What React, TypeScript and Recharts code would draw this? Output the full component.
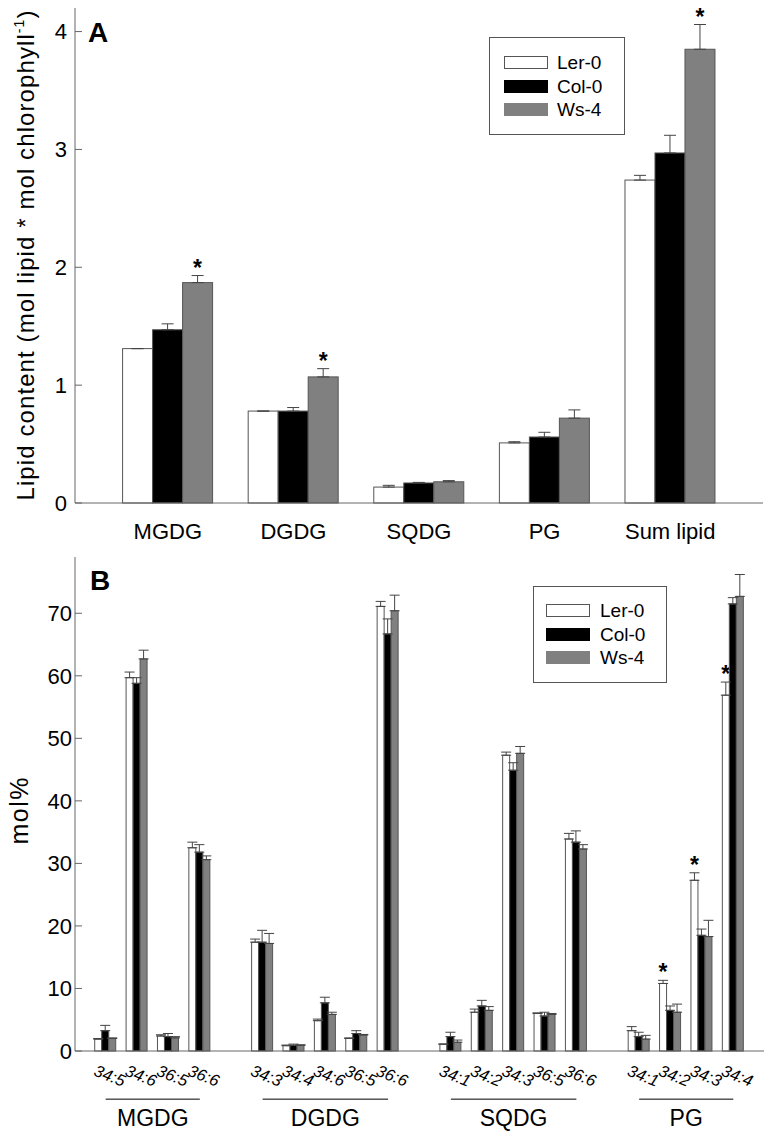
import React from "react";
import { BarChart, Bar, XAxis, YAxis, Legend, ErrorBar, ReferenceLine } from "recharts";

const FONT = '"Liberation Sans", Arial, Helvetica, sans-serif';

// accessions (series)
const accessions = ["Ler-0", "Col-0", "Ws-4"];
const seriesKeys = ["ler", "col", "ws"];
const seriesFills = ["#ffffff", "#000000", "#808080"];

// panel A: lipid content per mol chlorophyll
const lipidClassesA = ["MGDG", "DGDG", "SQDG", "PG", "Sum lipid"];
const lerA = [1.31, 0.78, 0.135, 0.51, 2.74];
const lerErrA = [0, 0, 0.015, 0.01, 0.04];
const colA = [1.47, 0.78, 0.17, 0.56, 2.97];
const colErrA = [0.05, 0.03, 0.005, 0.04, 0.15];
const wsA = [1.87, 1.07, 0.18, 0.72, 3.85];
const wsErrA = [0.06, 0.07, 0.01, 0.07, 0.21];
const wsSigA = [true, true, false, false, true];
const ticksA = [0, 1, 2, 3, 4];

// panel B: molecular species, mol%
const classesB = ["MGDG", "DGDG", "SQDG", "PG"];
const speciesB = [
  ["34:5", "34:6", "36:5", "36:6"],
  ["34:3", "34:4", "34:6", "36:5", "36:6"],
  ["34:1", "34:2", "34:3", "36:5", "36:6"],
  ["34:1", "34:2", "34:3", "34:4"],
];
const lerB = [1.9, 59.7, 2.4, 32.5, 17.4, 0.85, 4.85, 2.0, 71.1, 1.1, 6.2, 47.3, 6.0, 33.9, 3.25, 10.8, 27.3, 56.9];
const lerErrB = [0.1, 0.9, 0.2, 0.9, 0.5, 0.1, 0.25, 0.1, 0.8, 0, 0.5, 0.5, 0.1, 0.9, 0.65, 0.5, 1.2, 2.1];
const colB = [3.25, 58.8, 2.3, 31.8, 17.4, 0.9, 7.7, 2.8, 66.7, 2.3, 7.2, 44.9, 5.6, 33.4, 2.3, 6.5, 18.5, 71.5];
const colErrB = [0.85, 0.9, 0.5, 1.2, 1.9, 0.2, 0.9, 0.45, 2.4, 0.7, 0.9, 1.2, 0.6, 1.8, 0.7, 0.7, 1.0, 1.0];
const wsB = [2.0, 62.7, 2.1, 30.6, 17.2, 0.9, 5.85, 2.55, 70.4, 1.4, 6.5, 47.6, 5.85, 32.3, 1.9, 6.2, 18.3, 72.7];
const wsErrB = [0.1, 1.4, 0.2, 0.6, 1.6, 0.1, 0.35, 0.1, 2.5, 0.35, 0.6, 1.1, 0.15, 0.7, 0.6, 1.3, 2.6, 3.5];
const lerSigB = ["PG 34:2", "PG 34:3", "PG 34:4"];
const ticksB = [0, 10, 20, 30, 40, 50, 60, 70];

const rowsA = lipidClassesA.map((name, i) => ({
  id: name,
  ler: lerA[i],
  lerErr: lerErrA[i],
  col: colA[i],
  colErr: colErrA[i],
  ws: wsA[i],
  wsErr: wsErrA[i],
  wsSig: wsSigA[i],
}));

const rowsB: any[] = [];
let k = 0;
classesB.forEach((cls, ci) => {
  speciesB[ci].forEach((sp) => {
    const id = `${cls} ${sp}`;
    rowsB.push({
      id,
      label: sp,
      cls,
      ler: lerB[k],
      lerErr: lerErrB[k],
      col: colB[k],
      colErr: colErrB[k],
      ws: wsB[k],
      wsErr: wsErrB[k],
      lerSig: lerSigB.includes(id),
    });
    k++;
  });
  if (ci < classesB.length - 1) rowsB.push({ id: `gap${ci}`, label: "", cls: null });
});

const barShape = (key: string, fill: string) => (props: any) => {
  const { x, y, width, height, payload } = props;
  const v = payload?.[key];
  if (v == null || !height) return <g />;
  const perUnit = height / v;
  const errTop = y - (payload[key + "Err"] || 0) * perUnit;
  return (
    <g>
      <rect x={x} y={y} width={width} height={height} fill={fill} stroke="#555" strokeWidth={1} />
      {payload[key + "Sig"] ? (
        <text x={x + width / 2} y={errTop} textAnchor="middle" fontSize={23} fontWeight="bold" fontFamily={FONT} fill="#000">
          *
        </text>
      ) : null}
    </g>
  );
};

const makeYTick = (gap: number, fontSize: number) => (props: any) => {
  const { x, y, payload } = props;
  const axisX = x + gap;
  return (
    <g>
      <line x1={axisX} x2={axisX + 7} y1={y} y2={y} stroke="#666" />
      <text x={x} y={y} dy="0.36em" textAnchor="end" fontSize={fontSize} fontFamily={FONT} fill="#000">
        {payload.value}
      </text>
    </g>
  );
};

const RightTick = (props: any) => {
  const { x, y } = props;
  return <line x1={x - 7} x2={x} y1={y} y2={y} stroke="#666" />;
};

const SpeciesTick = (props: any) => {
  const { x, y, payload } = props;
  const row = rowsB.find((r) => r.id === payload.value);
  if (!row || !row.label) return <g />;
  const ax = x - 13;
  const ay = y + 24;
  return (
    <text x={ax} y={ay} transform={`rotate(22, ${ax}, ${ay})`} fontSize={16.5} fontStyle="italic" fontFamily={FONT} fill="#000">
      {row.label}
    </text>
  );
};

const makeLegend = (padTop: number, padLeft: number, gap: number) => (props: any) => {
  const payload = props.payload || [];
  const items = accessions.map((a, i) => payload.find((p: any) => p.value === a) || { value: a, color: seriesFills[i] });
  return (
    <div
      style={{
        border: "1px solid #555",
        background: "#fff",
        boxSizing: "border-box",
        width: "100%",
        height: "100%",
        padding: `${padTop}px 0 0 ${padLeft}px`,
      }}
    >
      {items.map((p: any) => (
        <div key={p.value} style={{ display: "flex", alignItems: "center", height: 23.5 }}>
          <div
            style={{
              width: 44,
              height: 13,
              background: p.color,
              border: `1px solid ${p.color === "#ffffff" ? "#555" : p.color}`,
              boxSizing: "border-box",
            }}
          />
          <span style={{ marginLeft: gap, fontSize: 19, fontFamily: FONT, lineHeight: 1, color: "#000" }}>{p.value}</span>
        </div>
      ))}
    </div>
  );
};

const yLabelA = (props: any) => {
  const vb = props.viewBox || { x: 0, y: 8, width: 75, height: 495 };
  const cx = vb.x + 34;
  const cy = vb.y + vb.height / 2;
  return (
    <text
      x={cx}
      y={cy}
      transform={`rotate(-90, ${cx}, ${cy})`}
      textAnchor="middle"
      fontSize={24}
      fontFamily={FONT}
      fill="#000"
      textLength={490}
      lengthAdjust="spacing"
    >
      Lipid content (mol lipid * mol chlorophyll
      <tspan fontSize={14} dy={-10}>
        -1
      </tspan>
      <tspan dy={10}>)</tspan>
    </text>
  );
};

const yLabelB = (props: any) => {
  const vb = props.viewBox || { x: 0, y: 12, width: 75, height: 494 };
  const cx = vb.x + 28;
  const cy = vb.y + vb.height / 2 + 7;
  return (
    <text
      x={cx}
      y={cy}
      transform={`rotate(-90, ${cx}, ${cy})`}
      textAnchor="middle"
      fontSize={25}
      fontFamily={FONT}
      fill="#000"
      textLength={67}
      lengthAdjust="spacing"
    >
      mol%
    </text>
  );
};

const panelLetter = (letter: string, left: number, top: number) => (
  <div
    style={{
      position: "absolute",
      left,
      top,
      fontFamily: FONT,
      fontWeight: "bold",
      fontSize: 28,
      lineHeight: 1,
      color: "#000",
    }}
  >
    {letter}
  </div>
);

export default function App() {
  return (
    <div style={{ position: "absolute", left: 0, top: 0, width: 772, height: 1135, background: "#fff", fontFamily: FONT }}>
      <div style={{ position: "absolute", left: 0, top: 0 }}>
        <BarChart width={772} height={545} data={rowsA} margin={{ top: 8, right: 9, bottom: 0, left: 0 }} barCategoryGap="14%" barGap={0}>
          <XAxis
            dataKey="id"
            padding={{ left: 30, right: 30 }}
            tickLine={false}
            tickSize={0}
            tickMargin={20}
            height={42}
            interval={0}
            axisLine={{ stroke: "#666" }}
            tick={{ fontSize: 22, fill: "#000", fontFamily: FONT }}
          />
          <XAxis xAxisId="top" dataKey="id" orientation="top" height={0} tick={false} tickLine={false} axisLine={{ stroke: "#666" }} />
          <YAxis
            domain={[0, 4.2]}
            ticks={ticksA}
            width={75}
            tickLine={false}
            tickSize={0}
            tickMargin={8}
            axisLine={{ stroke: "#666" }}
            tick={makeYTick(8, 22)}
            label={yLabelA}
          />
          <YAxis
            yAxisId="right"
            orientation="right"
            domain={[0, 4.2]}
            ticks={ticksA}
            width={0}
            tickLine={false}
            tickSize={0}
            tickMargin={0}
            axisLine={{ stroke: "#666" }}
            tick={RightTick}
          />
          <Legend
            layout="vertical"
            align="center"
            verticalAlign="middle"
            content={makeLegend(13, 14, 9)}
            wrapperStyle={{ left: 489, top: 37, width: 136, height: 98 }}
          />
          {seriesKeys.map((key, i) => (
            <Bar key={key} dataKey={key} name={accessions[i]} fill={seriesFills[i]} shape={barShape(key, seriesFills[i])} isAnimationActive={false}>
              <ErrorBar dataKey={(d: any) => (d[key + "Err"] == null ? undefined : [0, d[key + "Err"]])} width={6} stroke="#444" strokeWidth={1} direction="y" />
            </Bar>
          ))}
        </BarChart>
        {panelLetter("A", 88, 19)}
      </div>

      <div style={{ position: "absolute", left: 0, top: 545 }}>
        <BarChart width={772} height={590} data={rowsB} margin={{ top: 12, right: 8, bottom: 0, left: 0 }} barCategoryGap="15%" barGap={0}>
          <XAxis
            dataKey="id"
            padding={{ left: 15, right: 15 }}
            tickLine={false}
            tickSize={0}
            tickMargin={0}
            height={84}
            interval={0}
            axisLine={{ stroke: "#666" }}
            tick={SpeciesTick}
          />
          <XAxis xAxisId="top" dataKey="id" orientation="top" height={0} tick={false} tickLine={false} axisLine={{ stroke: "#666" }} />
          <YAxis
            domain={[0, 79]}
            ticks={ticksB}
            width={75}
            tickLine={false}
            tickSize={0}
            tickMargin={3}
            axisLine={{ stroke: "#666" }}
            tick={makeYTick(3, 22)}
            label={yLabelB}
          />
          <YAxis
            yAxisId="right"
            orientation="right"
            domain={[0, 79]}
            ticks={ticksB}
            width={0}
            tickLine={false}
            tickSize={0}
            tickMargin={0}
            axisLine={{ stroke: "#666" }}
            tick={RightTick}
          />
          <Legend
            layout="vertical"
            align="center"
            verticalAlign="middle"
            content={makeLegend(12, 12, 10)}
            wrapperStyle={{ left: 533, top: 41, width: 134, height: 97 }}
          />
          {seriesKeys.map((key, i) => (
            <Bar key={key} dataKey={key} name={accessions[i]} fill={seriesFills[i]} shape={barShape(key, seriesFills[i])} isAnimationActive={false}>
              <ErrorBar dataKey={(d: any) => (d[key + "Err"] == null ? undefined : [0, d[key + "Err"]])} width={5} stroke="#444" strokeWidth={1} direction="y" />
            </Bar>
          ))}
          {classesB.map((cls) => {
            const members = rowsB.filter((r) => r.cls === cls);
            return (
              <ReferenceLine
                key={cls}
                segment={[
                  { x: members[0].id, y: -7.7 },
                  { x: members[members.length - 1].id, y: -7.7 },
                ]}
                stroke="#000"
                strokeWidth={1}
                ifOverflow="visible"
                label={{ value: cls, position: "bottom", offset: 11, fontSize: 23, fill: "#000", fontFamily: FONT }}
              />
            );
          })}
        </BarChart>
        {panelLetter("B", 90, 22)}
      </div>
    </div>
  );
}
